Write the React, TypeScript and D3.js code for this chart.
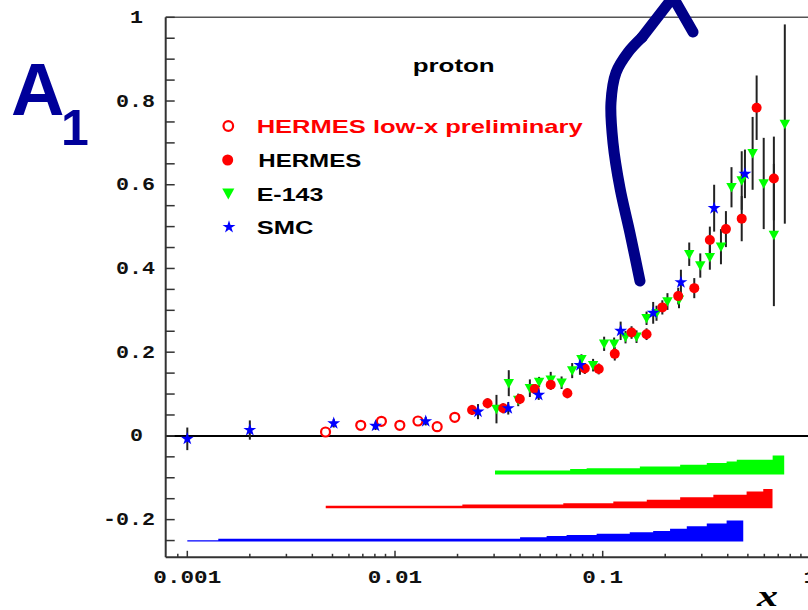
import React from "react";
import * as d3 from "d3";

// ---------- data ----------
const hermesLowX_x = [0.00463, 0.00684, 0.0086, 0.01055, 0.0129, 0.01596, 0.0194];
const hermesLowX_y = [0.0093, 0.0253, 0.0349, 0.0253, 0.0356, 0.022, 0.0444];
const hermesLowX_e = [0.008, 0.01, 0.008, 0.007, 0.007, 0.007, 0.008];

const hermes_x = [0.0235, 0.0279, 0.0332, 0.0399, 0.0471, 0.0562, 0.0676, 0.082, 0.0957, 0.1143, 0.1377, 0.1626, 0.1937, 0.231, 0.276, 0.328, 0.392, 0.467, 0.551, 0.667];
const hermes_y = [0.062, 0.078, 0.066, 0.088, 0.112, 0.122, 0.102, 0.161, 0.16, 0.196, 0.247, 0.243, 0.307, 0.334, 0.353, 0.468, 0.494, 0.519, 0.784, 0.615];
const hermes_e = [0.012, 0.012, 0.012, 0.012, 0.012, 0.012, 0.012, 0.013, 0.013, 0.016, 0.015, 0.014, 0.017, 0.02, 0.024, 0.032, 0.043, 0.054, 0.077, 0.1];

const e143_x = [0.0308, 0.0353, 0.0392, 0.0446, 0.0494, 0.0562, 0.0634, 0.0713, 0.079, 0.0899, 0.1016, 0.1135, 0.1288, 0.1455, 0.1626, 0.1816, 0.205, 0.233, 0.261, 0.295, 0.328, 0.371, 0.417, 0.467, 0.527, 0.596, 0.667, 0.753];
const e143_y = [0.064, 0.126, 0.086, 0.114, 0.129, 0.134, 0.127, 0.156, 0.183, 0.169, 0.22, 0.22, 0.236, 0.237, 0.281, 0.293, 0.321, 0.325, 0.434, 0.407, 0.427, 0.452, 0.594, 0.61, 0.675, 0.603, 0.48, 0.745];
const e143_e = [0.034, 0.031, 0.015, 0.021, 0.012, 0.019, 0.015, 0.018, 0.012, 0.015, 0.017, 0.015, 0.015, 0.015, 0.016, 0.018, 0.02, 0.02, 0.028, 0.029, 0.03, 0.042, 0.048, 0.07, 0.087, 0.109, 0.17, 0.238];

const smc_x = [0.001, 0.002, 0.00507, 0.00806, 0.01406, 0.0251, 0.0351, 0.0492, 0.0777, 0.122, 0.175, 0.238, 0.344, 0.484];
const smc_y = [-0.007, 0.014, 0.03, 0.024, 0.035, 0.058, 0.066, 0.098, 0.169, 0.251, 0.294, 0.367, 0.544, 0.626];
const smc_e = [0.027, 0.023, 0.01, 0.01, 0.01, 0.018, 0.015, 0.012, 0.023, 0.022, 0.026, 0.03, 0.056, 0.058];

// systematic-error bands: bin edges and heights
const e143Band_base = -0.092;
const e143Band_edges = [0.0303, 0.0697, 0.0837, 0.151, 0.236, 0.317, 0.395, 0.442, 0.658, 0.748];
const e143Band_h = [0.0096, 0.0127, 0.015, 0.019, 0.023, 0.027, 0.031, 0.035, 0.045];

const hermesBand_base = -0.1727;
const hermesBand_edges = [0.00464, 0.0211, 0.0646, 0.1125, 0.163, 0.236, 0.341, 0.493, 0.593, 0.657];
const hermesBand_h = [0.006, 0.009, 0.012, 0.016, 0.02, 0.026, 0.032, 0.04, 0.046];

const smcBand_base = -0.252;
const smcBand_edges = [0.001, 0.00141, 0.04, 0.0537, 0.067, 0.0935, 0.135, 0.175, 0.211, 0.254, 0.317, 0.395, 0.475];
const smcBand_h = [0.0025, 0.0064, 0.01, 0.0127, 0.015, 0.018, 0.022, 0.025, 0.03, 0.036, 0.043, 0.05];

// ticks
const yTickValues = [-0.2, 0, 0.2, 0.4, 0.6, 0.8, 1];
const yTickLabels = ["-0.2", "0", "0.2", "0.4", "0.6", "0.8", "1"];
const xTickValues = [0.001, 0.01, 0.1, 1];
const xTickLabels = ["0.001", "0.01", "0.1", "1"];

const legendLabels = ["HERMES low-x preliminary", "HERMES", "E-143", "SMC"];

// hand-drawn annotation arrow (data coordinates)
const arrowBody: [number, number][] = [[0.1512, 0.37], [0.1353, 0.4845], [0.1211, 0.592], [0.1121, 0.7], [0.1096, 0.796], [0.1159, 0.868], [0.1323, 0.916], [0.1546, 0.952]];
const arrowHead: [number, number][] = [[0.1546, 0.952], [0.2181, 1.048], [0.2721, 0.965]];

// ---------- chart ----------
const W = 808, H = 610;
const xScale = d3.scaleLog().domain([0.000787, 1]).range([165.7, 810.4]);
const yScale = d3.scaleLinear().domain([-0.29, 1]).range([557.3, 17.3]);
const X0 = 165.7, XR = 808, YB = 557.3, YT = 17.3;

const RED = "#ff0000", GREEN = "#00ff00", BLUE = "#0000ff", NAVY = "#00009a";

const triDown = "M-5.5,-4.5L5.5,-4.5L0,5.5Z";
const starPath = d3.symbol().type(d3.symbolStar).size(52)() as string;

function Band({ edges, h, base, color }: { edges: number[]; h: number[]; base: number; color: string }) {
  const pts = edges.map((e, i) => ({ x: e, h: h[Math.min(i, h.length - 1)] }));
  const area = d3.area<{ x: number; h: number }>()
    .x((d) => xScale(d.x))
    .y0(() => yScale(base))
    .y1((d) => yScale(base + d.h))
    .curve(d3.curveStepAfter);
  return <path d={area(pts) as string} fill={color} />;
}

function ErrBars({ xs, ys, es }: { xs: number[]; ys: number[]; es: number[] }) {
  return (
    <g stroke="#222" strokeWidth={2}>
      {xs.map((x, i) => (
        <line key={i} x1={xScale(x)} x2={xScale(x)} y1={yScale(ys[i] - es[i])} y2={yScale(ys[i] + es[i])} />
      ))}
    </g>
  );
}

export default function App() {
  const minorX: number[] = [0.0009];
  [0.001, 0.01, 0.1].forEach((d) => { for (let k = 2; k <= 9; k++) minorX.push(d * k); });
  const yMinor = d3.range(-25, 101, 5).map((v) => v / 100);

  const bodyLine = d3.line<[number, number]>().x((d) => xScale(d[0])).y((d) => yScale(d[1])).curve(d3.curveCatmullRom);
  const headLine = d3.line<[number, number]>().x((d) => xScale(d[0])).y((d) => yScale(d[1]));

  const monoFont = "'Liberation Mono', 'Courier New', monospace";
  const sansFont = "'Liberation Sans', Arial, sans-serif";

  const legendY = [126, 160, 193.5, 227];
  const legendBase = [132.7, 167.3, 200.7, 234];
  const legendW = [326, 103, 66.7, 56.7];

  return (
    <svg width={W} height={H} style={{ position: "absolute", left: 0, top: 0, background: "#fff" }}>
      <rect x={0} y={0} width={W} height={H} fill="#fff" />

      {/* bands */}
      <Band edges={e143Band_edges} h={e143Band_h} base={e143Band_base} color={GREEN} />
      <Band edges={hermesBand_edges} h={hermesBand_h} base={hermesBand_base} color={RED} />
      <Band edges={smcBand_edges} h={smcBand_h} base={smcBand_base} color={BLUE} />

      {/* zero line */}
      <line x1={X0} x2={XR} y1={yScale(0)} y2={yScale(0)} stroke="#000" strokeWidth={2} />

      {/* frame */}
      <line x1={X0} x2={X0} y1={YT} y2={YB} stroke="#333" strokeWidth={2} />
      <line x1={X0} x2={XR} y1={YB} y2={YB} stroke="#333" strokeWidth={2} />
      <line x1={X0} x2={XR} y1={YT} y2={YT} stroke="#555" strokeWidth={1.5} />

      {/* y ticks */}
      <g stroke="#333" strokeWidth={1.5}>
        {yMinor.map((v, i) => (
          <line key={i} x1={X0} x2={X0 + 9} y1={yScale(v)} y2={yScale(v)} />
        ))}
      </g>
      {/* x ticks */}
      <g stroke="#333" strokeWidth={1.5}>
        {minorX.map((v, i) => (
          <line key={i} x1={xScale(v)} x2={xScale(v)} y1={YB} y2={YB - 3.5} />
        ))}
        {xTickValues.map((v, i) => (
          <line key={"M" + i} x1={xScale(v)} x2={xScale(v)} y1={YB} y2={YB - 6.5} />
        ))}
      </g>

      {/* y tick labels */}
      <g fontFamily={monoFont} fontWeight="bold" fontSize={18} fill="#111">
        {yTickValues.map((v, i) => {
          const lab = yTickLabels[i];
          const isInt = !lab.includes(".");
          return (
            <text key={i} x={isInt ? 143 : 155} y={yScale(v) + 5.5} textAnchor="end"
              textLength={lab.length * 13} lengthAdjust="spacingAndGlyphs">{lab}</text>
          );
        })}
      </g>
      {/* x tick labels */}
      <g fontFamily={monoFont} fontWeight="bold" fontSize={18} fill="#111">
        {xTickValues.map((v, i) => {
          const lab = xTickLabels[i];
          const w = lab.length * 13.6;
          return (
            <text key={i} x={xScale(v) - w / 2} y={583.3} textLength={w} lengthAdjust="spacingAndGlyphs">{lab}</text>
          );
        })}
      </g>

      {/* axis title x */}
      <text x={757} y={606} fontFamily="'Liberation Serif', 'Times New Roman', serif" fontStyle="italic" fontWeight="bold"
        fontSize={30} fill="#000" textLength={21} lengthAdjust="spacingAndGlyphs">x</text>

      {/* A1 */}
      <text x={11} y={115} fontFamily={sansFont} fontWeight="bold" fontSize={74} fill={NAVY}>A</text>
      <text x={61} y={145} fontFamily={sansFont} fontWeight="bold" fontSize={50} fill={NAVY}>1</text>

      {/* proton */}
      <text x={412.7} y={72} fontFamily={sansFont} fontWeight="bold" fontSize={19} fill="#000"
        textLength={82} lengthAdjust="spacingAndGlyphs">proton</text>

      {/* legend */}
      <g>
        <circle cx={228.3} cy={legendY[0]} r={4.8} fill="#fff" stroke={RED} strokeWidth={2.2} />
        <circle cx={227.7} cy={legendY[1]} r={5.5} fill={RED} />
        <path d={triDown} transform={`translate(228.3,${legendY[2]}) scale(1.1)`} fill={GREEN} />
        <path d={starPath} transform={`translate(229,${legendY[3]})`} fill={BLUE} />
        {legendLabels.map((l, i) => (
          <text key={i} x={i === 1 ? 258.3 : 256.7} y={legendBase[i]} fontFamily={sansFont} fontWeight="bold" fontSize={18.6}
            fill={i === 0 ? RED : "#000"} textLength={legendW[i]} lengthAdjust="spacingAndGlyphs">{l}</text>
        ))}
      </g>

      {/* error bars */}
      <ErrBars xs={hermesLowX_x} ys={hermesLowX_y} es={hermesLowX_e} />
      <ErrBars xs={hermes_x} ys={hermes_y} es={hermes_e} />
      <ErrBars xs={e143_x} ys={e143_y} es={e143_e} />
      <ErrBars xs={smc_x} ys={smc_y} es={smc_e} />

      {/* markers */}
      <g>
        {hermesLowX_x.map((x, i) => (
          <circle key={i} cx={xScale(x)} cy={yScale(hermesLowX_y[i])} r={4.5} fill="#fff" stroke={RED} strokeWidth={2.2} />
        ))}
      </g>
      <g>
        {e143_x.map((x, i) => (
          <path key={i} d={triDown} transform={`translate(${xScale(x)},${yScale(e143_y[i])}) scale(0.95)`} fill={GREEN} />
        ))}
      </g>
      <g>
        {hermes_x.map((x, i) => (
          <circle key={i} cx={xScale(x)} cy={yScale(hermes_y[i])} r={5} fill={RED} />
        ))}
      </g>
      <g>
        {smc_x.map((x, i) => (
          <path key={i} d={starPath} transform={`translate(${xScale(x)},${yScale(smc_y[i])})`} fill={BLUE} />
        ))}
      </g>

      {/* annotation arrow */}
      <path d={bodyLine(arrowBody) as string} fill="none" stroke="#000088" strokeWidth={11} strokeLinecap="round" strokeLinejoin="round" />
      <path d={headLine(arrowHead) as string} fill="none" stroke="#000088" strokeWidth={11} strokeLinecap="round" strokeLinejoin="round" />
    </svg>
  );
}
